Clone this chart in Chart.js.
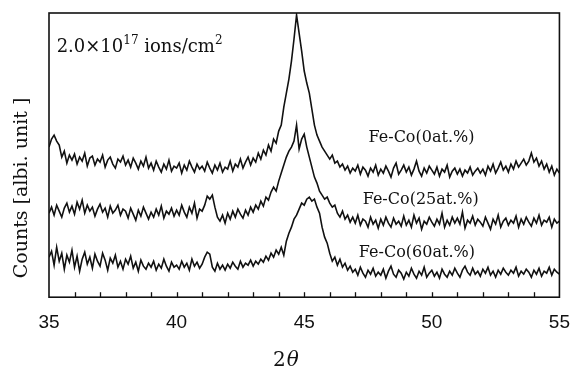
<!DOCTYPE html>
<html>
<head>
<meta charset="utf-8">
<script src="https://cdn.jsdelivr.net/npm/chart.js@4/dist/chart.umd.min.js"></script>
<style>
  html, body { margin: 0; padding: 0; background: #fff; }
  #wrap { width: 584px; height: 367px; }
</style>
</head>
<body>
<div id="wrap"><canvas id="xrd"></canvas></div>
<script>
// 2-theta from 35.0 to 55.0, step 0.1
const twoTheta = [];
for (let i = 0; i <= 200; i++) twoTheta.push(+(35 + i * 0.1).toFixed(1));

const xTicks = [35, 40, 45, 50, 55];

// Fe-Co (0 at.%) counts, arbitrary units
const fe0 = [
  150, 158, 162, 156, 152, 140, 146, 134, 142, 137,
  143, 133, 140, 136, 144, 131, 139, 141, 132, 138,
  135, 142, 130, 137, 140, 133, 129, 138, 135, 141,
  132, 137, 130, 139, 134, 128, 136, 131, 140, 129,
  134, 127, 136, 130, 125, 133, 128, 137, 126, 131,
  129, 134, 124, 132, 127, 136, 130, 125, 133, 128,
  131, 126, 135, 129, 124, 132, 127, 134, 125, 130,
  128, 136, 126, 133, 130, 138, 129, 135, 140, 132,
  139, 135, 144, 138, 147, 142, 152, 146, 158, 154,
  166, 172, 190, 204, 218, 236, 258, 282, 264, 246,
  226, 214, 204, 188, 172, 162, 156, 150, 146, 142,
  138, 142, 134, 136, 130, 133, 127, 131, 124, 129,
  126, 132, 123, 130, 127, 121, 129, 125, 132, 122,
  128, 124, 131, 126, 120, 129, 134, 123, 127, 132,
  125, 130, 122, 128, 136, 126, 121, 129, 124, 131,
  127, 123, 130, 121, 128, 125, 132, 120, 126, 129,
  123, 128, 121, 127, 124, 130, 122, 126, 129, 124,
  128, 122, 131, 126, 133, 124, 129, 135, 127, 131,
  125, 133, 128, 136, 130, 134, 138, 132, 136, 144,
  135, 139, 131, 136, 128, 133, 125, 131, 122, 128,
  124
];

// Fe-Co (25 at.%)
const fe25 = [
  84, 90, 82, 92, 86, 80, 89, 94, 85, 91,
  83, 95, 88, 97, 84, 92, 86, 90, 81, 88,
  93, 85, 89, 80, 91, 84, 87, 92, 82, 88,
  86, 79, 89, 83, 77, 87, 81, 90, 84, 78,
  85, 80, 88, 82, 91, 79, 86, 83, 89, 81,
  87, 82, 92, 85, 80, 90, 84, 94, 79, 88,
  86, 92, 101, 98, 102, 90, 80, 76, 82, 74,
  84, 78, 86, 80, 88, 83, 79, 87, 82, 90,
  85, 92, 88, 96, 91, 100, 97, 105, 110, 106,
  116, 124, 132, 140, 146, 150, 156, 172, 148, 158,
  163, 150, 140, 130, 120, 114, 106, 102, 98, 100,
  94, 90, 92, 84, 80, 86, 78, 82, 75, 80,
  74, 82, 72, 78, 76, 70, 80, 73, 77, 69,
  78, 72, 80, 74, 70, 79, 73, 76, 71, 81,
  72, 77, 70, 82, 74, 79, 68, 76, 73, 80,
  75, 71, 78, 73, 84, 70, 77, 72, 80, 74,
  79, 73, 85, 69, 77, 74, 81, 72, 78, 75,
  71, 80, 74, 68, 78, 73, 82, 70, 76, 79,
  72, 77, 74, 81, 70, 78, 73, 80, 75, 71,
  79, 74, 82, 72, 77, 75, 80, 70, 78, 74,
  76
];

// Fe-Co (60 at.%)
const fe60 = [
  40, 46, 32, 50, 36, 44, 28, 42, 35, 47,
  30, 41, 26, 38, 45, 33, 40, 29, 43, 36,
  31, 44, 37, 27, 39, 34, 42, 30, 36, 28,
  38, 33, 41, 29, 35, 26, 37, 31, 28, 34,
  30, 36, 27, 33, 29, 38, 31, 26, 35, 30,
  32, 28, 36, 30, 34, 27, 38, 31, 35, 29,
  33, 40, 45, 43, 30, 26, 34, 28, 32, 27,
  33, 29, 35, 31, 28, 36, 30, 34, 32, 37,
  31, 36, 33, 38, 35, 41, 37, 44, 40, 47,
  43, 50, 42, 56, 64, 70, 78, 82, 88, 94,
  92, 98, 100, 96, 98, 90, 84, 70, 60, 54,
  44, 36, 40, 32, 38, 30, 34, 27, 31, 25,
  28, 22, 30, 24, 20, 27, 23, 29, 21, 25,
  22, 28, 19, 26, 31, 23, 20, 27, 24, 18,
  25, 21, 29, 23, 19, 26, 22, 30, 20, 24,
  27, 21, 25, 19, 28, 23, 20, 26, 22, 29,
  24, 20, 27, 31, 25, 22, 29, 23, 26, 21,
  28, 24, 30, 22, 26, 20, 27, 23, 29, 25,
  22, 27, 24, 30, 21, 26, 23, 28, 25, 20,
  27, 23, 29, 21, 26, 24, 30, 22, 28, 25,
  23
];

// labels placed in data coordinates (left edge, vertical centre)
const seriesLabels = ['Fe-Co(0at.%)', 'Fe-Co(25at.%)', 'Fe-Co(60at.%)'];
const labelX = [47.52, 47.29, 47.14];
const labelY = [159, 97, 44];

const serif = "'DejaVu Serif', 'Liberation Serif', serif";

const toPoints = ys => ys.map((y, i) => ({ x: twoTheta[i], y: y }));

// frame, inward ticks and text annotations
const decorations = {
  id: 'decorations',
  afterDraw(chart) {
    const { ctx, chartArea: a, scales } = chart;
    const xs = scales.x, ys = scales.y;
    ctx.save();
    ctx.strokeStyle = '#111';
    ctx.lineWidth = 1.6;
    ctx.strokeRect(a.left, a.top, a.right - a.left, a.bottom - a.top);

    ctx.lineWidth = 1.3;
    xs.ticks.forEach(t => {
      if (t.value <= xs.min || t.value >= xs.max) return;
      const px = Math.round(xs.getPixelForValue(t.value)) + 0.5;
      ctx.beginPath();
      ctx.moveTo(px, a.bottom);
      ctx.lineTo(px, a.bottom - 5);
      ctx.stroke();
    });

    ctx.fillStyle = '#111';
    ctx.textBaseline = 'middle';
    ctx.textAlign = 'left';

    // dose annotation with superscripts
    let x = xs.getPixelForValue(35.3);
    const y = ys.getPixelForValue(250);
    const parts = [
      ['2.0\u00d710', 18, 0],
      ['17', 12, -6],
      [' ions/cm', 18, 0],
      ['2', 12, -6]
    ];
    parts.forEach(([txt, size, dy]) => {
      ctx.font = size + 'px ' + serif;
      ctx.fillText(txt, x, y + dy);
      x += ctx.measureText(txt).width;
    });

    ctx.font = '16px ' + serif;
    seriesLabels.forEach((s, i) => {
      ctx.fillText(s, xs.getPixelForValue(labelX[i]), ys.getPixelForValue(labelY[i]));
    });

    // x axis title: upright 2, italic theta
    ctx.textBaseline = 'alphabetic';
    let tx = 273;
    ctx.font = '20px ' + serif;
    ctx.fillText('2', tx, 366);
    tx += ctx.measureText('2').width + 1;
    ctx.font = 'italic 20px ' + serif;
    ctx.fillText('\u03b8', tx, 366);

    // y axis title
    ctx.textBaseline = 'middle';
    ctx.font = '19px ' + serif;
    ctx.translate(22, 188);
    ctx.rotate(-Math.PI / 2);
    ctx.textAlign = 'center';
    ctx.fillText('Counts [albi. unit ]', 0, 0);
    ctx.restore();
  }
};

const lineStyle = {
  borderColor: '#111',
  borderWidth: 1.6,
  pointRadius: 0,
  tension: 0,
  fill: false
};

new Chart(document.getElementById('xrd'), {
  type: 'line',
  data: {
    datasets: [
      { label: seriesLabels[0], data: toPoints(fe0), ...lineStyle },
      { label: seriesLabels[1], data: toPoints(fe25), ...lineStyle },
      { label: seriesLabels[2], data: toPoints(fe60), ...lineStyle }
    ]
  },
  options: {
    responsive: true,
    maintainAspectRatio: false,
    animation: false,
    layout: { padding: { left: 49, right: 11, top: 13, bottom: 19 } },
    plugins: {
      legend: { display: false },
      tooltip: { enabled: false }
    },
    scales: {
      x: {
        type: 'linear',
        min: 35,
        max: 55,
        grid: { display: false, drawTicks: false },
        border: { display: false },
        ticks: {
          stepSize: 1,
          autoSkip: false,
          maxRotation: 0,
          padding: 14,
          color: '#111',
          font: { family: "'Liberation Sans', Arial, sans-serif", size: 19 },
          callback: v => (xTicks.includes(v) ? String(v) : '')
        }
      },
      y: {
        display: false,
        min: 0,
        max: 284
      }
    }
  },
  plugins: [decorations]
});
</script>
</body>
</html>
